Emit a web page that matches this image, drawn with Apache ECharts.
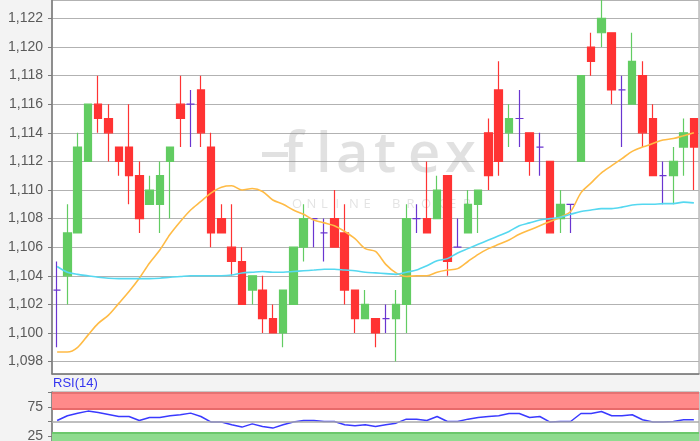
<!DOCTYPE html>
<html><head><meta charset="utf-8">
<script src="https://cdn.jsdelivr.net/npm/echarts@6/dist/echarts.min.js"></script>
<style>html,body{margin:0;padding:0;background:#f3f3f3;overflow:hidden;}#c{width:700px;height:470px;}</style>
</head><body><div id="c"></div>
<script>
// ---- data ----
const categories = Array.from({length: 63}, (_, i) => String(i + 1));
const openVals = [
  1.103,1.104,1.107,1.112,1.116,1.115,1.113,1.113,1.111,1.109,
  1.109,1.112,1.116,1.116,1.117,1.113,1.108,1.106,1.105,1.103,
  1.103,1.101,1.100,1.102,1.106,1.108,1.107,1.108,1.107,1.103,
  1.101,1.101,1.101,1.101,1.102,1.108,1.108,1.108,1.111,1.106,
  1.107,1.109,1.114,1.117,1.114,1.115,1.114,1.113,1.112,1.108,
  1.109,1.112,1.120,1.121,1.121,1.117,1.116,1.118,1.115,1.111,
  1.111,1.113,1.115];
const closeVals = [
  1.103,1.107,1.113,1.116,1.115,1.114,1.112,1.111,1.108,1.110,
  1.111,1.113,1.115,1.116,1.114,1.107,1.107,1.105,1.102,1.104,
  1.101,1.100,1.103,1.106,1.108,1.108,1.107,1.106,1.103,1.101,
  1.102,1.100,1.101,1.102,1.108,1.108,1.107,1.110,1.105,1.106,
  1.109,1.110,1.111,1.112,1.115,1.115,1.112,1.113,1.107,1.109,
  1.109,1.118,1.119,1.122,1.117,1.117,1.119,1.114,1.111,1.111,
  1.112,1.114,1.113];
const lowVals = [
  1.099,1.102,1.107,1.112,1.114,1.112,1.111,1.109,1.107,1.109,
  1.107,1.108,1.113,1.113,1.113,1.106,1.107,1.104,1.102,1.102,
  1.100,1.100,1.099,1.102,1.105,1.106,1.105,1.106,1.102,1.100,
  1.101,1.099,1.100,1.098,1.100,1.107,1.107,1.108,1.104,1.106,
  1.107,1.107,1.110,1.111,1.113,1.113,1.111,1.111,1.107,1.107,
  1.107,1.112,1.118,1.120,1.116,1.113,1.116,1.113,1.111,1.109,
  1.109,1.111,1.110];
const highVals = [
  1.105,1.109,1.114,1.116,1.118,1.116,1.113,1.116,1.112,1.111,
  1.112,1.113,1.118,1.117,1.118,1.114,1.109,1.109,1.106,1.104,
  1.104,1.102,1.103,1.106,1.109,1.108,1.108,1.110,1.109,1.103,
  1.103,1.101,1.102,1.103,1.109,1.109,1.112,1.111,1.111,1.108,
  1.110,1.110,1.115,1.119,1.116,1.117,1.114,1.114,1.112,1.110,
  1.109,1.118,1.121,1.124,1.121,1.118,1.121,1.119,1.116,1.112,
  1.113,1.115,1.115];
const maShort = [
  1.09867,1.09867,1.0990,1.09985,1.10067,1.10125,1.10207,1.1029,1.10383,1.1049,
  1.1058,1.1069,1.1078,1.1086,1.1092,1.1098,1.1102,1.1103,1.1100,1.1101,
  1.1099,1.1093,1.1090,1.1086,1.1083,1.1079,1.1077,1.1075,1.1071,1.1066,
  1.1059,1.1057,1.1048,1.1042,1.10395,1.1040,1.1040,1.10425,1.1044,1.1045,
  1.1050,1.1055,1.1059,1.1062,1.1065,1.1069,1.1072,1.1075,1.1078,1.1081,
  1.1085,1.1098,1.1105,1.1112,1.1117,1.1122,1.1127,1.1130,1.11325,1.1135,
  1.1136,1.1138,1.1140];
const maLong = [
  1.10465,1.10425,1.1041,1.1040,1.1039,1.10383,1.1038,1.1038,1.1038,1.1038,
  1.10383,1.1039,1.10395,1.1040,1.1040,1.1040,1.1040,1.10405,1.1042,1.10425,
  1.1043,1.10425,1.10425,1.1043,1.10435,1.1044,1.10446,1.10446,1.1044,1.10435,
  1.10425,1.1042,1.10415,1.1041,1.10425,1.1044,1.1047,1.10505,1.1052,1.1056,
  1.1059,1.1062,1.1065,1.1068,1.1071,1.1075,1.1077,1.1079,1.1080,1.1081,
  1.1083,1.1085,1.1086,1.1087,1.1087,1.1088,1.10895,1.1090,1.1090,1.10905,
  1.10905,1.10915,1.1091];
const rsiVals = [
  51.7,59.7,64,67.6,65.3,61.9,58.5,58.5,51.7,56.8,
  56.8,59.7,61.4,64.2,58.5,49,49,44.4,40.5,46,
  41.5,38.8,44.4,49,51.7,51.7,50,50,44.4,42.7,
  44.4,41.5,44.4,47.2,54,54,51.7,58.5,50,50,
  54,56.8,58.5,59.7,63.6,63.6,56.8,58.5,49,50,
  50,63.6,63.6,67,59.7,59.7,61.4,52.9,49,49,
  50,52.9,52.9];
const rsiTickLabels = [25, 75];
const rsiTitle = 'RSI(14)';
const watermarkWord = ['f','l','a','t','e','x'];
const watermarkSub = ['O','N','L','I','N','E','B','R','O','K','E','R'];

// ---- chart ----
const candleData = categories.map((c, i) => [openVals[i], closeVals[i], lowVals[i], highVals[i]]);
const priceFmt = v => {
  const k = Math.round(v / 0.002);
  if (Math.abs(v - k * 0.002) > 1e-7) return '';
  return v.toFixed(3).replace('.', ',');
};
const wmX = [283, 316, 336, 374, 408, 445];
const subX = [292, 306.5, 321, 335.5, 349, 363.5, 392, 406.5, 421, 435.5, 449, 463];
const graphics = [];
graphics.push({type:'rect', z: 1, silent:true, shape:{x:262, y:152, width:26, height:5}, style:{fill:'rgba(140,140,140,0.26)'}});
watermarkWord.forEach((ch, i) => graphics.push({
  type:'text', z: 1, silent:true, left: wmX[i], top: 128,
  style:{text: ch, fontSize: 56, fontFamily:'Open Sans', fontWeight: 600, fill:'rgba(140,140,140,0.26)'}
}));
watermarkSub.forEach((ch, i) => graphics.push({
  type:'text', z: 1, silent:true, left: subX[i], top: 198,
  style:{text: ch, fontSize: 13, fontFamily:'Open Sans', fill:'rgba(140,140,140,0.24)'}
}));
graphics.push({type:'text', left: 53, top: 377, style:{text: rsiTitle, fontSize: 13, fontFamily:'Liberation Sans, Arial', fill:'#3535f0'}});

const chart = echarts.init(document.getElementById('c'), null, {renderer:'canvas'});
chart.setOption({
  animation: false,
  backgroundColor: '#f3f3f3',
  graphic: graphics,
  grid: [
    {left: 52, right: 1, top: 0, height: 374, show: true, backgroundColor: '#ffffff', borderColor: '#9a9a9a', borderWidth: 1},
    {left: 52, right: 1, top: 392, height: 59, show: true, backgroundColor: '#ffffff', borderColor: '#9a9a9a', borderWidth: 1}
  ],
  xAxis: [
    {type:'category', gridIndex:0, data: categories, boundaryGap: true,
     axisLine:{show:true, onZero:false, lineStyle:{color:'#7a7a7a', width:1.5}}, axisTick:{show:false}, axisLabel:{show:false}, splitLine:{show:false}},
    {type:'category', gridIndex:1, data: categories, boundaryGap: true,
     axisLine:{show:false}, axisTick:{show:false}, axisLabel:{show:false}, splitLine:{show:false}}
  ],
  yAxis: [
    {type:'value', gridIndex:0, min: 1.09713, max: 1.12329, splitNumber: 13,
     axisLine:{show:true, lineStyle:{color:'#7a7a7a', width:1.5}},
     axisTick:{show:true, length:4, lineStyle:{color:'#7a7a7a'}},
     axisLabel:{formatter: priceFmt, color:'#5a5a5a', fontSize:14, margin:9, fontFamily:'Liberation Sans, Arial', showMinLabel:false, showMaxLabel:false},
     splitLine:{show:true, lineStyle:{color:'#b2b2b2', width:1.2}}},
    {type:'value', gridIndex:1, min:0, max:100, interval:25,
     axisLine:{show:true, lineStyle:{color:'#7a7a7a', width:1.5}},
     axisTick:{show:true, length:4, lineStyle:{color:'#7a7a7a'}},
     axisLabel:{formatter: v => rsiTickLabels.indexOf(v) >= 0 ? String(v) : '', color:'#5a5a5a', fontSize:14, margin:9, fontFamily:'Liberation Sans, Arial'},
     splitLine:{show:false}}
  ],
  series: [
    {type:'candlestick', xAxisIndex:0, yAxisIndex:0, data: candleData, barWidth: 8, clip: true, z: 3,
     itemStyle:{color:'#62cc62', color0:'#ff3333', borderColor:'#62cc62', borderColor0:'#ff3333', borderColorDoji:'#6a35d0', borderWidth:1.2}},
    {type:'line', xAxisIndex:0, yAxisIndex:0, data: maShort, showSymbol:false, smooth:0.3, z: 4,
     lineStyle:{color:'#ffbb45', width:1.6}},
    {type:'line', xAxisIndex:0, yAxisIndex:0, data: maLong, showSymbol:false, smooth:0.3, z: 4,
     lineStyle:{color:'#55d8f0', width:1.6}},
    {type:'line', xAxisIndex:1, yAxisIndex:1, data: rsiVals, showSymbol:false, z: 4,
     lineStyle:{color:'#3a3aff', width:1.5},
     markArea:{silent:true, data:[
       [{yAxis:70, itemStyle:{color:'#ff8a8a'}}, {yAxis:100}],
       [{yAxis:0, itemStyle:{color:'#8fdb8f'}}, {yAxis:32}]
     ]},
     markLine:{silent:true, symbol:'none', label:{show:false}, data:[
       {yAxis:50, lineStyle:{color:'#aaaaaa', width:1.5, type:'solid'}},
       {yAxis:71, lineStyle:{color:'#e86a6a', width:2, type:'solid'}},
       {yAxis:99.2, lineStyle:{color:'#dd6a6a', width:1.5, type:'solid'}},
       {yAxis:31.3, lineStyle:{color:'#6cc86c', width:2, type:'solid'}}
     ]}}
  ]
});
</script>
</body></html>
